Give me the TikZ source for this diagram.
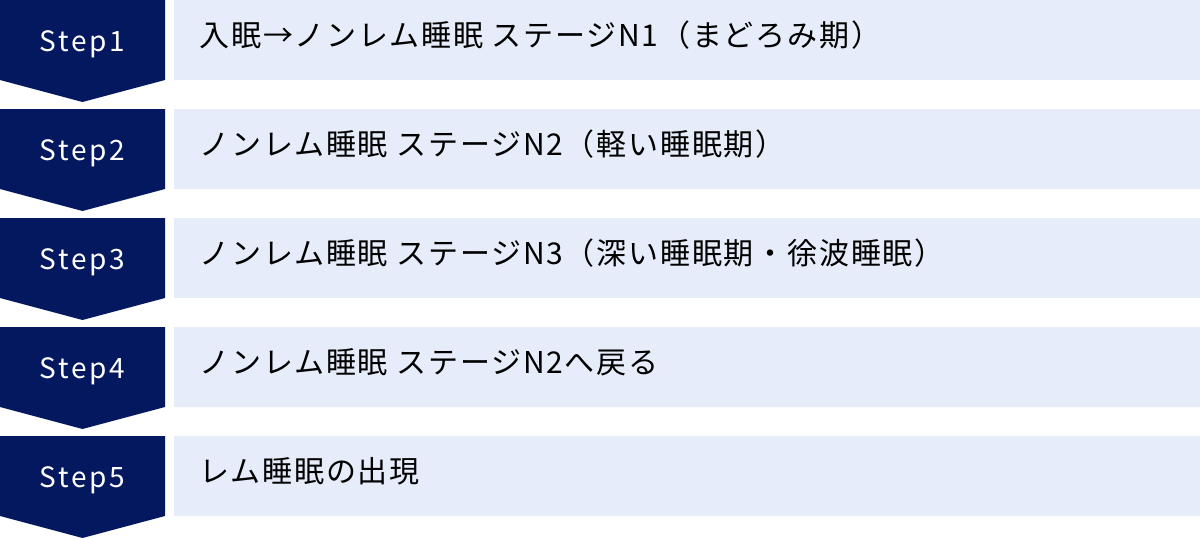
\documentclass[tikz,border=0pt]{standalone}
\usepackage{fontspec}
\usepackage{tikz}
\newfontfamily\stepfont[LetterSpace=10]{Noto Sans CJK JP}
\newfontfamily\jpfont[LetterSpace=6]{Noto Sans CJK JP}
\definecolor{navy}{HTML}{04185F}
\definecolor{paleblue}{HTML}{E6ECF9}

\begin{document}
\begin{tikzpicture}[x=1pt,y=-1pt,
    steplabel/.style={anchor=base,text=white,font=\stepfont\fontsize{28}{32}\selectfont},
    phase/.style={anchor=base west,text=black,font=\jpfont\fontsize{30}{36}\selectfont}]
         \useasboundingbox (0,0) rectangle (1200,538);
         \foreach \i/\txt in {1/入眠→ノンレム睡眠 ステージN1（まどろみ期）,
                              2/ノンレム睡眠 ステージN2（軽い睡眠期）,
                              3/ノンレム睡眠 ステージN3（深い睡眠期・徐波睡眠）,
                              4/ノンレム睡眠 ステージN2へ戻る,
                              5/レム睡眠の出現}
         {
         \pgfmathsetmacro{\top}{109*(\i-1)}
         \fill [navy] (0,\top) -- (165,\top) -- (165,\top+80)
               -- (82.5,\top+102) -- (0,\top+80) -- cycle;
         \fill [paleblue] (174,\top) rectangle (1200,\top+80);
         \node [steplabel] (s\i) at (82.5,\top+51) {Step\i};
         \node [phase] (t\i) at (196,\top+46) {\txt};
         }
       \end{tikzpicture}
\end{document}
